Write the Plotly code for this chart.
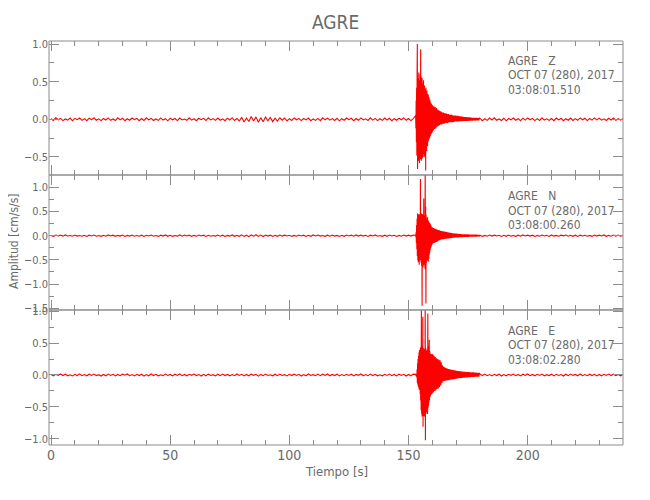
import numpy as np
import plotly.graph_objects as go
from plotly.subplots import make_subplots

# ---------------- data (amplitudes in milli cm/s/s) ----------------
components = ["Z", "N", "E"]
start_times = ["03:08:01.510", "03:08:00.260", "03:08:02.280"]
date_label = "OCT 07 (280), 2017"
station = "AGRE"

# sampling grids of the four segments (pre-event, main phase, coda, post-event)
t_pre = np.arange(0, 153, 1.0)            # 0 .. 152 s
t_main = 153 + np.arange(70) * 0.1        # 153.0 .. 159.9 s
t_coda = 160 + np.arange(80) * 0.25       # 160 .. 179.75 s
t_post = np.arange(180, 241, 1.0)         # 180 .. 240 s

z_pre = [8, -15, 19, -6, 12, -18, 4, -11, 16, -20,
         13, -5, 17, -14, 9, -19, 15, -7, 21, -12,
         6, -17, 11, -9, 18, -13, 5, -16, 20, -8,
         14, -19, 7, -12, 17, -4, 13, -18, 10, -15,
         19, -7, 12, -16, 5, -14, 18, -10, 8, -20,
         15, -6, 11, -17, 16, -9, 4, -13, 19, -11,
         7, -18, 14, -5, 12, -16, 20, -8, 10, -14,
         17, -12, 6, -19, 15, -9, 21, -16, 11, -22,
         27, -35, 18, -30, 38, -24, 32, -40, 22, -33,
         29, -19, 25, -31, 14, -23, 20, -12, 17, -21,
         9, -15, 18, -6, 13, -17, 11, -8, 16, -19,
         5, -14, 12, -18, 19, -7, 15, -11, 9, -16,
         13, -20, 8, -12, 17, -5, 14, -18, 10, -13,
         18, -9, 6, -15, 20, -11, 12, -17, 7, -14,
         16, -10, 13, -19, 8, -12, 15, -6, 19, -13,
         11, -17, 9]
z_main = [50, -120, 250, -300, 420, -480, 600, 1000, -660, 550,
          -520, 480, -550, 620, -500, 450, -580, 520, -470, 600,
          -530, 930, -500, 570, -550, 500, -480, 550, -520, 440,
          -500, 480, -450, 520, -460, 420, -500, 450, -440, 400,
          -480, 380, -680, 420, -400, 360, -420, 380, -360, 340,
          -350, 320, -300, 330, -280, 300, -270, 280, -250, 260,
          -230, 240, -220, 220, -200, 210, -190, 200, -180, 190]
z_coda = [-170, 180, -150, 170, -130, 160, -120, 150, -100, 130,
          -90, 120, -80, 110, -70, 100, -70, 90, -60, 90,
          -60, 80, -50, 80, -50, 70, -50, 70, -40, 60,
          -40, 60, -40, 60, -40, 50, -35, 50, -30, 50,
          -30, 45, -30, 45, -30, 40, -25, 40, -25, 35,
          -25, 35, -20, 30, -20, 30, -20, 30, -20, 25,
          -20, 25, -18, 25, -18, 22, -17, 20, -17, 20,
          -16, 20, -16, 18, -15, 18, -15, 17, -15, 16]
z_post = [12, -18, 7, -14, 16, -9, 19, -12, 5, -16,
          14, -20, 10, -7, 17, -13, 8, -19, 15, -11,
          18, -6, 13, -17, 9, -15, 20, -10, 6, -14,
          11, -18, 16, -8, 13, -19, 7, -12, 17, -15,
          9, -13, 19, -6, 14, -17, 10, -11, 18, -8,
          15, -12, 6, -16, 13, -9, 17, -14, 8, -11, 10]

n_pre = [6, -13, 10, -4, 12, -9, 15, -7, 3, -11,
         14, -8, 5, -12, 9, -15, 11, -6, 13, -10,
         4, -14, 8, -11, 16, -5, 10, -13, 7, -9,
         12, -16, 6, -8, 14, -11, 3, -12, 10, -15,
         9, -6, 13, -10, 5, -14, 11, -7, 16, -12,
         8, -13, 4, -9, 15, -11, 12, -5, 10, -14,
         7, -10, 13, -6, 11, -16, 9, -12, 4, -8,
         14, -11, 10, -15, 6, -9, 16, -13, 8, -12,
         18, -14, 11, -20, 15, -10, 19, -16, 12, -17,
         13, -8, 10, -15, 7, -12, 14, -9, 11, -6,
         9, -14, 5, -11, 13, -7, 10, -16, 8, -12,
         15, -6, 12, -9, 4, -13, 11, -10, 14, -8,
         6, -15, 9, -12, 13, -5, 10, -11, 16, -7,
         12, -9, 8, -14, 11, -6, 15, -10, 5, -13,
         10, -12, 14, -7, 9, -16, 6, -11, 13, -9,
         11, -8, 12]
n_main = [10, -30, 80, -150, 220, -280, 350, -420, 460, -500,
          430, -550, 400, -480, 450, -600, 420, -520, 380, -450,
          1170, -500, 440, -560, 460, -620, 420, -1450, 450, -580,
          400, -650, 430, -520, 770, -600, 410, -550, 380, -680,
          1350, -700, 600, -1400, 420, -560, 350, -500, 330, -450,
          380, -520, 320, -540, 300, -480, 280, -400, 260, -350,
          250, -300, 230, -260, 210, -230, 190, -200, 180, -180]
n_coda = [170, -160, 160, -150, 150, -140, 140, -130, 130, -120,
          115, -100, 110, -90, 100, -80, 95, -75, 90, -70,
          85, -65, 80, -60, 75, -58, 70, -55, 65, -52,
          60, -50, 55, -45, 50, -42, 48, -40, 45, -38,
          42, -35, 40, -33, 38, -32, 35, -30, 33, -30,
          30, -28, 30, -26, 28, -25, 27, -24, 26, -22,
          25, -22, 24, -20, 23, -20, 22, -18, 21, -18,
          20, -17, 20, -16, 19, -16, 18, -15, 18, -15]
n_post = [10, -14, 6, -11, 13, -8, 12, -5, 9, -15,
          7, -12, 14, -9, 4, -13, 11, -10, 16, -6,
          12, -8, 10, -15, 5, -11, 13, -7, 9, -14,
          15, -9, 6, -12, 11, -4, 14, -10, 8, -13,
          10, -16, 12, -7, 9, -11, 5, -14, 13, -8,
          11, -6, 15, -12, 7, -10, 12, -9, 14, -11, 8]

e_pre = [7, -14, 11, -5, 16, -9, 13, -12, 4, -15,
         10, -8, 17, -11, 6, -13, 12, -7, 15, -10,
         5, -16, 9, -12, 14, -6, 11, -15, 8, -10,
         13, -4, 16, -11, 7, -14, 10, -9, 12, -17,
         6, -12, 15, -8, 11, -13, 4, -10, 14, -7,
         9, -15, 12, -6, 17, -11, 8, -13, 10, -5,
         14, -9, 6, -16, 11, -12, 13, -7, 5, -14,
         12, -10, 15, -8, 9, -13, 7, -11, 16, -6,
         10, -14, 8, -12, 13, -5, 11, -17, 9, -10,
         15, -7, 4, -13, 12, -11, 14, -8, 6, -15,
         11, -9, 13, -6, 10, -16, 7, -12, 15, -8,
         5, -11, 14, -10, 12, -7, 16, -13, 8, -9,
         13, -15, 6, -11, 10, -8, 12, -14, 9, -5,
         16, -12, 7, -10, 14, -9, 11, -13, 4, -12,
         10, -7, 15, -11, 8, -14, 13, -6, 11, -16,
         9, -12, 14]
e_main = [10, -12, 15, -20, 8, -40, 90, -120, 180, -150,
          250, -180, 300, -200, 350, -230, 390, -220, 380, -300,
          420, -400, 440, -550, 1080, -600, 450, -650, 430, -620,
          910, -810, 420, -640, 400, -600, 380, -650, 410, -580,
          1100, -1020, 420, -600, 380, -580, 350, -560, 400, -600,
          -600, 960, -520, 450, -480, 420, -430, 550, -390, 380,
          -350, 340, -330, 330, -310, 320, -300, 310, -290, 330]
e_coda = [-290, 320, -270, 300, -250, 280, -240, 260, -220, 250,
          -210, 240, -190, 230, -160, 200, -130, 150, -100, 130,
          -95, 120, -90, 110, -85, 100, -80, 95, -80, 90,
          -75, 85, -70, 80, -68, 78, -65, 75, -62, 70,
          -58, 66, -55, 62, -52, 60, -50, 58, -48, 55,
          -46, 52, -44, 50, -42, 48, -40, 46, -38, 45,
          -36, 44, -35, 42, -34, 42, -32, 40, -30, 40,
          -30, 38, -28, 36, -27, 35, -26, 34, -25, 32]
e_post = [12, -8, 15, -11, 6, -14, 10, -9, 13, -16,
          7, -12, 11, -5, 14, -10, 9, -15, 12, -7,
          16, -11, 8, -13, 10, -6, 15, -12, 5, -9,
          13, -14, 11, -8, 7, -16, 12, -10, 14, -6,
          9, -13, 15, -11, 6, -10, 13, -8, 11, -15,
          8, -12, 10, -7, 14, -9, 12, -11, 6, -13, 10]

y_ranges = [[-0.74, 1.04], [-1.535, 1.254], [-1.094, 1.016]]

# ---------------- figure ----------------
FONT = "Liberation Sans Narrow, DejaVu Sans Condensed, Liberation Sans, sans-serif"
TXT = "#6a6a6a"
AX = "#8c8c8c"
RED = "#ff0000"

t_all = np.concatenate([t_pre, t_main, t_coda, t_post])
series = [
    np.concatenate([z_pre, z_main, z_coda, z_post]) / 1000.0,
    np.concatenate([n_pre, n_main, n_coda, n_post]) / 1000.0,
    np.concatenate([e_pre, e_main, e_coda, e_post]) / 1000.0,
]

fig = make_subplots(rows=3, cols=1, shared_xaxes=False, vertical_spacing=0)
for i, y in enumerate(series):
    fig.add_trace(go.Scatter(x=t_all, y=y, mode="lines",
                             line=dict(color=RED, width=1.1, simplify=False),
                             showlegend=False, hoverinfo="skip"),
                  row=i + 1, col=1)

domains = [[0.6683, 1.0], [0.3342, 0.6683], [0.0, 0.3342]]
for i in range(3):
    fig.update_xaxes(range=[-0.85, 240], tick0=0, dtick=50,
                     ticks="inside", ticklen=10, tickwidth=1, tickcolor=AX,
                     minor=dict(dtick=10, ticks="inside", ticklen=5, tickcolor=AX),
                     showline=False, mirror="allticks",
                     showgrid=False, zeroline=False, automargin=False,
                     showticklabels=(i == 2),
                     tickfont=dict(family=FONT, size=14, color=TXT),
                     row=i + 1, col=1)
    fig.update_yaxes(range=y_ranges[i], domain=domains[i], tick0=0, dtick=0.5,
                     tickformat=".1f",
                     ticks="inside", ticklen=10, tickwidth=1, tickcolor=AX,
                     minor=dict(dtick=0.25, ticks="inside", ticklen=5, tickcolor=AX),
                     showline=False, mirror="allticks",
                     showgrid=False, zeroline=False, automargin=False,
                     tickfont=dict(family=FONT, size=11, color=TXT),
                     row=i + 1, col=1)
    sfx = "" if i == 0 else str(i + 1)
    fig.add_shape(type="rect", xref="x" + sfx + " domain", yref="y" + sfx + " domain",
                  x0=0, x1=1, y0=0, y1=1, line=dict(color=AX, width=1), layer="above")

# label positions measured in screenshot pixels, converted to paper coordinates
PLOT_TOP, PLOT_BOTTOM, PLOT_LEFT, PLOT_W = 41, 445, 49, 574
def py(px):
    return (PLOT_BOTTOM - px) / (PLOT_BOTTOM - PLOT_TOP)
def px_(x):
    return (x - PLOT_LEFT) / PLOT_W

label_rows = [[61.3, 75.2, 89.7], [195.8, 210.5, 224.7], [330.5, 345.0, 359.5]]
ann = []
for comp, st, rows in zip(components, start_times, label_rows):
    lines = [station + "\u00a0\u00a0\u00a0" + comp, date_label, st]
    for txt, r in zip(lines, rows):
        ann.append(dict(text=txt, xref="paper", yref="paper", x=px_(506.7), y=py(r),
                        xanchor="left", yanchor="middle", showarrow=False,
                        borderpad=0, font=dict(family=FONT, size=12, color=TXT)))

ann.append(dict(text="Amplitud [cm/s/s]", xref="paper", yref="paper",
                x=px_(14), y=py(241), textangle=-90, xanchor="center", yanchor="middle",
                showarrow=False, font=dict(family=FONT, size=12, color=TXT)))
ann.append(dict(text="Tiempo [s]", xref="paper", yref="paper",
                x=px_(336), y=py(471), xanchor="center", yanchor="middle",
                showarrow=False, font=dict(family=FONT, size=13, color=TXT)))
ann.append(dict(text=station, xref="paper", yref="paper",
                x=px_(335.5), y=py(22), xanchor="center", yanchor="middle",
                showarrow=False, font=dict(family=FONT, size=19, color=TXT)))

# the page body adds an 8 px margin, so the figure is drawn 8 px smaller and shifted
fig.update_layout(width=642, height=492,
                  margin=dict(l=41, r=27, t=33, b=55),
                  paper_bgcolor="white", plot_bgcolor="white",
                  annotations=ann)

fig.write_html("out.html")
